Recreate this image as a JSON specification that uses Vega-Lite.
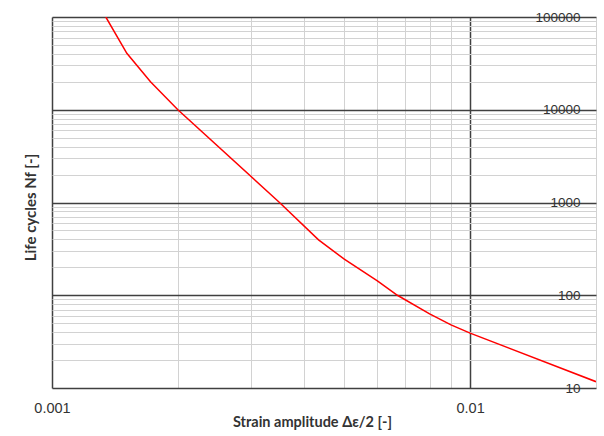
{
  "$schema": "https://vega.github.io/schema/vega-lite/v6.json",
  "width": 544,
  "height": 371,
  "autosize": {"type": "none"},
  "padding": {"left": 52, "top": 17, "right": 8, "bottom": 48},
  "background": "white",
  "config": {"view": {"stroke": null}, "font": "Liberation Sans"},
  "data": {
    "values": [
      {"strain": 0.001345, "cycles": 100000},
      {"strain": 0.00151, "cycles": 40600},
      {"strain": 0.00172, "cycles": 20000},
      {"strain": 0.002, "cycles": 10000},
      {"strain": 0.0035, "cycles": 1000},
      {"strain": 0.00434, "cycles": 395},
      {"strain": 0.005, "cycles": 245},
      {"strain": 0.006, "cycles": 143},
      {"strain": 0.0067, "cycles": 100},
      {"strain": 0.008, "cycles": 63},
      {"strain": 0.009, "cycles": 48},
      {"strain": 0.01, "cycles": 39},
      {"strain": 0.02, "cycles": 11.7}
    ]
  },
  "mark": {"type": "line", "color": "#ff0000", "strokeWidth": 1.5, "clip": true},
  "encoding": {
    "x": {
      "field": "strain",
      "type": "quantitative",
      "scale": {"type": "log", "domain": [0.001, 0.02], "nice": false},
      "axis": {
        "values": [0.001, 0.002, 0.003, 0.004, 0.005, 0.006, 0.007, 0.008, 0.009, 0.01, 0.02],
        "labelExpr": "indexof([0.001, 0.01], datum.value) >= 0 ? datum.value + '' : ''",
        "grid": true,
        "gridColor": {"condition": {"test": "indexof([0.001, 0.01], datum.value) >= 0", "value": "#404040"}, "value": "#d2d2d2"},
        "gridWidth": {"condition": {"test": "indexof([0.001, 0.01], datum.value) >= 0", "value": 1.5}, "value": 1},
        "domain": false,
        "ticks": false,
        "tickSize": 0,
        "labelPadding": 13,
        "labelFontSize": 14.5,
        "labelColor": "#333333",
        "labelFlush": false,
        "labelOverlap": false,
        "title": "Strain amplitude Δε/2 [-]",
        "titleFont": "Lato",
        "titleFontWeight": "bold",
        "titleFontSize": 14.5,
        "titleColor": "#333333",
        "titleX": 260,
        "titleY": 34,
        "titleBaseline": "middle",
        "titleAlign": "center"
      }
    },
    "y": {
      "field": "cycles",
      "type": "quantitative",
      "scale": {"type": "log", "domain": [10, 100000], "nice": false},
      "axis": {
        "orient": "right",
        "values": [10, 20, 30, 40, 50, 60, 70, 80, 90, 100, 200, 300, 400, 500, 600, 700, 800, 900, 1000, 2000, 3000, 4000, 5000, 6000, 7000, 8000, 9000, 10000, 20000, 30000, 40000, 50000, 60000, 70000, 80000, 90000, 100000],
        "labelExpr": "indexof([10, 100, 1000, 10000, 100000], datum.value) >= 0 ? datum.value + '' : ''",
        "grid": true,
        "gridColor": {"condition": {"test": "indexof([10, 100, 1000, 10000, 100000], datum.value) >= 0", "value": "#404040"}, "value": "#d2d2d2"},
        "gridWidth": {"condition": {"test": "indexof([10, 100, 1000, 10000, 100000], datum.value) >= 0", "value": 1.5}, "value": 1},
        "domain": false,
        "ticks": false,
        "tickSize": 0,
        "labelPadding": -16,
        "labelAlign": "right",
        "labelBaseline": "middle",
        "labelFontSize": 13.5,
        "labelColor": "#333333",
        "labelFlush": false,
        "labelOverlap": false,
        "title": "Life cycles Nf [-]",
        "titleFont": "Lato",
        "titleFontWeight": "bold",
        "titleFontSize": 15,
        "titleColor": "#333333",
        "titleAngle": 270,
        "titleX": -566,
        "titleY": 190,
        "titleBaseline": "middle",
        "titleAlign": "center"
      }
    }
  }
}
